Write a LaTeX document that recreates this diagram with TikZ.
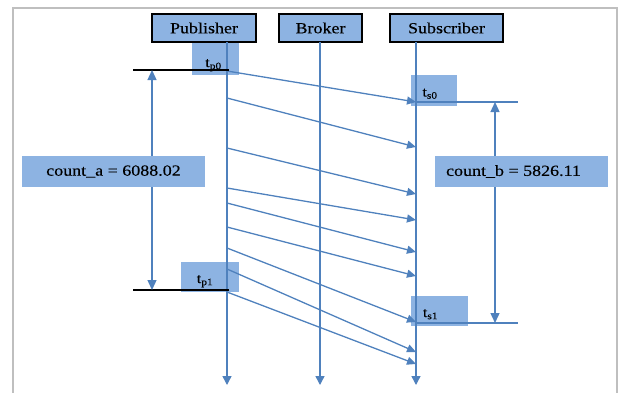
\documentclass[tikz,border=0pt]{standalone}
\usepackage{fontspec}
\setmainfont{Liberation Serif}
\newfontfamily\labelfont[FakeStretch=1.16, FakeBold=0.2]{Liberation Serif}
\usetikzlibrary{arrows.meta}
\definecolor{boxblue}{HTML}{8DB3E2}
\definecolor{lineblue}{HTML}{4F81BD}
\definecolor{framegray}{HTML}{BFBFBF}
\begin{document}
\begin{tikzpicture}[x={(1pt,0)}, y={(0,-1pt)},
  head/.style={draw=black, line width=1.4pt, fill=boxblue, minimum height=28pt,
    inner sep=0pt, font=\labelfont\fontsize{15.5}{18}\selectfont},
  tbox/.style={fill=boxblue, inner sep=0pt, text height=15pt, text depth=3pt,
    font=\labelfont\fontsize{14}{16}\selectfont},
  cbox/.style={fill=boxblue, inner sep=0pt, minimum height=31pt, minimum width=183pt,
    font=\labelfont\fontsize{15.5}{18}\selectfont},
  lifeline/.style={draw=lineblue, line width=1.4pt, -{Triangle[width=9pt,length=9pt]}},
  msg/.style={draw=lineblue, line width=1.3pt, -{Triangle[width=8pt,length=9pt]}},
  span/.style={draw=lineblue, line width=1.3pt,
    {Triangle[width=9pt,length=10pt]}-{Triangle[width=9pt,length=10pt]}},
  tick/.style={line width=1.4pt}]
  \useasboundingbox (0,0) rectangle (618,392);
  % frame
  \draw[framegray, line width=2.5pt] (13,400) -- (13,8) -- (617,8) -- (617,400);

  % time stamp boxes
  \node[tbox, text height=20pt, minimum width=47pt, minimum height=33pt] (tp0) at (215.5,58.5) {\hspace*{-4pt}t\textsubscript{p0}};
  \node[tbox, minimum width=58pt, minimum height=30pt] (tp1) at (210,277) {\hspace*{-10pt}t\textsubscript{p1}};
  \node[tbox, minimum width=46pt, minimum height=31pt] (ts0) at (434,90.5) {\hspace*{-8pt}t\textsubscript{s0}};
  \node[tbox, minimum width=57pt, minimum height=30pt] (ts1) at (439.5,311) {\hspace*{-18pt}t\textsubscript{s1}};

  % participants
  \node[head, minimum width=104pt] (pub) at (204,28) {Publisher};
  \node[head, minimum width=83pt] (bro) at (320.5,28) {Broker};
  \node[head, minimum width=113pt] (sub) at (446.5,28) {Subscriber};

  % lifelines
  \coordinate (pubtop) at (227,42);  \coordinate (pubend) at (227,385);
  \coordinate (brotop) at (320,42);  \coordinate (broend) at (320,385);
  \coordinate (subtop) at (416,42);  \coordinate (subend) at (416,385);
  \draw[lifeline] (pubtop) -- (pubend);
  \draw[lifeline] (brotop) -- (broend);
  \draw[lifeline] (subtop) -- (subend);

  % messages
  \foreach \i/\a/\b in {1/71/102, 2/98/147, 3/148/194, 4/188/220, 5/203/252,
                        6/227/276, 7/248/322, 8/269/352, 9/292/364} {
    \coordinate (m\i) at (227,\a);
    \coordinate (r\i) at (416,\b);
    \draw[msg] (m\i) -- (r\i);
  }

  % reference marks
  \coordinate (a0) at (133,70);  \coordinate (a0e) at (229,70);
  \coordinate (a1) at (133,290); \coordinate (a1e) at (229,290);
  \draw[tick, black] (a0) -- (a0e);
  \draw[tick, black] (a1) -- (a1e);
  \coordinate (b0) at (416,102); \coordinate (b0e) at (518,102);
  \coordinate (b1) at (416,323); \coordinate (b1e) at (518,323);
  \draw[tick, lineblue] (b0) -- (b0e);
  \draw[tick, lineblue] (b1) -- (b1e);

  \coordinate (ca0) at (152,70);  \coordinate (ca1) at (152,290);
  \coordinate (cb0) at (495,102); \coordinate (cb1) at (495,323);
  \draw[span] (ca0) -- (ca1);
  \draw[span] (cb0) -- (cb1);

  \node[cbox] (cnta) at (113.5,171.5) {count\_a = 6088.02};
  \node[cbox, minimum width=173pt] (cntb) at (521.5,171.5) {\hspace*{-16pt}count\_b = 5826.11};
\end{tikzpicture}
\end{document}
